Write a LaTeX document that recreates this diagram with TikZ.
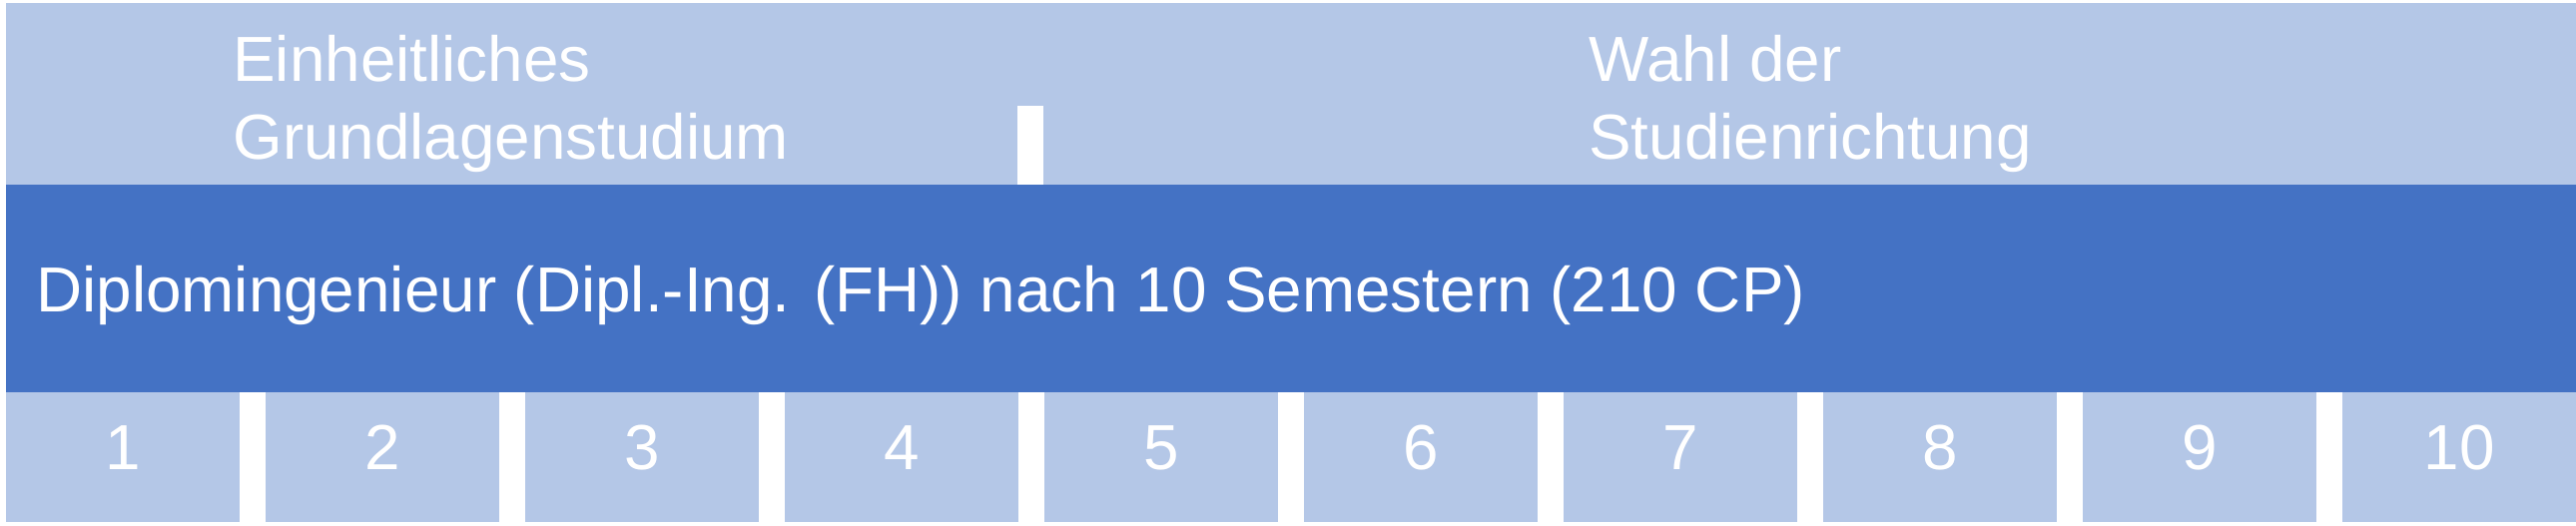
\documentclass[tikz,border=0pt]{standalone}
\usepackage{fontspec}
\setmainfont{Liberation Sans}
\definecolor{lightblue}{HTML}{B4C7E7}
\definecolor{darkblue}{HTML}{4472C4}
\begin{document}
\begin{tikzpicture}[x=0.5pt,y=-0.5pt,
  lbl/.style={text=white,font=\fontsize{31.9pt}{38.75pt}\selectfont,inner sep=0pt},
  band/.style={inner sep=0pt,outer sep=0pt,anchor=north west},
  sem/.style={lbl,fill=lightblue,outer sep=0pt,minimum width=117pt,minimum height=65pt,text height=22.5pt,text depth=10pt}]
\useasboundingbox (0,0) rectangle (2580,526);
\node[band,fill=lightblue,minimum width=1287pt,minimum height=91pt] (top) at (6,3) {};
\node[band,fill=white,minimum width=13pt,minimum height=39.5pt] (notch) at (1019,106) {};
\node[band,fill=darkblue,minimum width=1287pt,minimum height=104pt] (main) at (6,185) {};
\node[lbl,anchor=base west] (maintext) at (36,312) {Diplomingenieur (Dipl.-Ing. (FH)) nach 10 Semestern (210 CP)};
\node[lbl,anchor=base west,align=left] (grund) at (233,159) {Einheitliches\\Grundlagenstudium};
\node[lbl,anchor=base west,align=left] (wahl) at (1591,159) {Wahl der\\Studienrichtung};
\foreach \k in {1,...,10} {
  \node[sem] (s\k) at ({123+260*(\k-1)},458) {\k};
}
\end{tikzpicture}
\end{document}
